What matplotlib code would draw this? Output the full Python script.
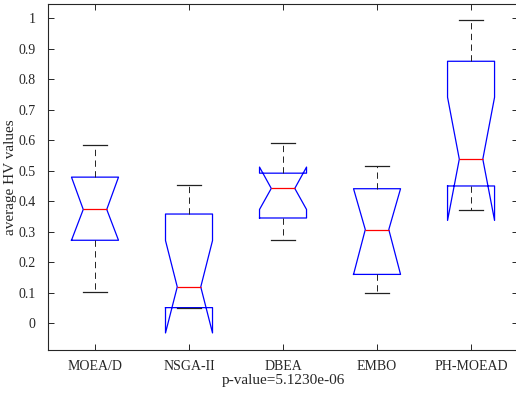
import matplotlib
matplotlib.use("Agg")
import matplotlib.pyplot as plt

plt.rcParams['font.family'] = ['Liberation Serif', 'DejaVu Serif']

# values (MATLAB notched boxplot)
names = ['MOEA/D', 'NSGA-II', 'DBEA', 'EMBO', 'PH-MOEAD']
med = [0.373, 0.119, 0.442, 0.307, 0.538]
q1 = [0.272, 0.051, 0.345, 0.160, 0.450]
q3 = [0.479, 0.358, 0.492, 0.441, 0.859]
whislo = [0.102, 0.049, 0.272, 0.098, 0.370]
whishi = [0.585, 0.454, 0.590, 0.514, 0.993]
cilo = [0.272, -0.032, 0.373, 0.160, 0.337]
cihi = [0.479, 0.271, 0.512, 0.441, 0.741]
yticks = [0, 0.1, 0.2, 0.3, 0.4, 0.5, 0.6, 0.7, 0.8, 0.9, 1]
ytick_labels = ['0', '0.1', '0.2', '0.3', '0.4', '0.5', '0.6', '0.7', '0.8', '0.9', '1']

stats = []
for i in range(len(names)):
    stats.append({'med': med[i], 'q1': q1[i], 'q3': q3[i],
                  'whislo': whislo[i], 'whishi': whishi[i],
                  'cilo': cilo[i], 'cihi': cihi[i], 'fliers': [],
                  'label': names[i]})

axcol = '#262626'

fig = plt.figure(figsize=(5.16, 3.94), dpi=100)
ax = fig.add_axes([0.093, 0.112, 0.911, 0.878])

ax.bxp(stats, positions=[1, 2, 3, 4, 5], widths=0.5, shownotches=True,
       showfliers=False,
       boxprops=dict(color='blue', linewidth=0.9),
       medianprops=dict(color='red', linewidth=0.9),
       whiskerprops=dict(color='#222222', linewidth=0.7, linestyle=(0, (6.5, 4.5))),
       capprops=dict(color='#222222', linewidth=0.9))

ax.set_xlim(0.5, 5.5)
ax.set_ylim(-0.0875, 1.047)
ax.set_yticks(yticks)
ax.set_yticklabels(ytick_labels)
ax.set_xticks([1, 2, 3, 4, 5])
ax.set_xticklabels(names)
ax.tick_params(direction='in', length=4, width=0.7, top=True, right=True,
               labelsize=10, colors=axcol, labelcolor=axcol)
ax.tick_params(axis='y', pad=9)
ax.tick_params(axis='x', pad=7)
for s in ax.spines.values():
    s.set_linewidth(0.8)
    s.set_color(axcol)

ax.set_xlabel('p-value=5.1230e-06', fontsize=11, color=axcol, labelpad=1)
ax.set_ylabel('average HV values', fontsize=11, color=axcol, labelpad=1)

fig.savefig('out.png', dpi=100)
